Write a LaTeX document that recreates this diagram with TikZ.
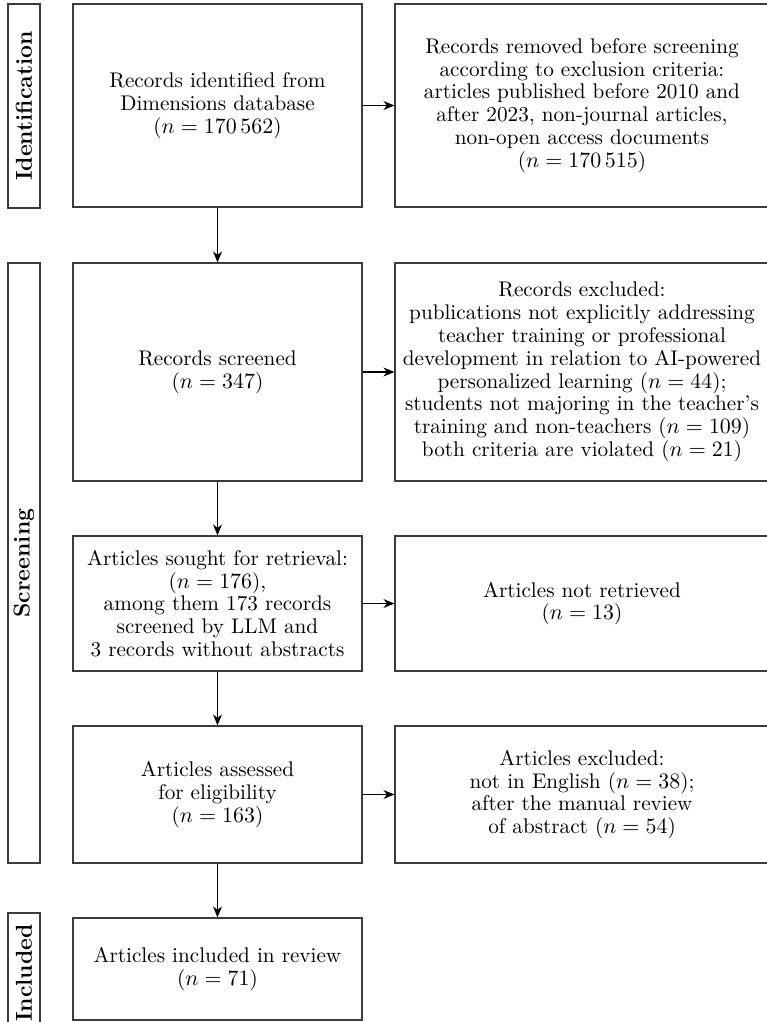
\documentclass[tikz,border=0pt]{standalone}
\usepackage{amsmath}
\usepackage{tikz}
\usetikzlibrary{positioning, arrows.meta}
\definecolor{prLine}{RGB}{60, 60, 60}
\tikzset{
    base/.style={
        font=\fontsize{10.6}{11.4}\selectfont,
        align=center,
        text=black
    },
    stage/.style={
        base,
        rectangle,
        draw=prLine,
        line width=0.6pt,
        fill=white,
        inner sep=2pt
    },
    phase/.style={
        base,
        rectangle,
        draw=prLine,
        line width=0.6pt,
        fill=white,
        font=\fontsize{11.5}{12}\selectfont\bfseries,
        minimum height=16pt,
        inner sep=0pt
    },
    flow/.style={
        -{Stealth[length=5.5pt, width=4.5pt]},
        line width=0.6pt,
        color=black
    }
}

\begin{document}
\begin{tikzpicture}[x=0.5pt, y=-0.5pt]
  \useasboundingbox (0,0) rectangle (766,1022);

  % Phase bars
  \node[phase, rotate=90, minimum width=102pt] (ident) at (24,106) {Identification};
  \node[phase, rotate=90, minimum width=300pt] (screen) at (24,563) {Screening};
  \node[phase, rotate=90, minimum width=60pt] (incl) at (24,973) {Included};

  % Main column
  \node[stage, minimum width=144.5pt, minimum height=101.5pt] (ident1) at (217.5,105.5)
    {Records identified from\\ Dimensions database\\ ($n = 170\,562$)};
  \node[stage, minimum width=144.5pt, minimum height=109pt] (screened) at (217.5,372)
    {Records screened\\ ($n = 347$)};
  \node[stage, minimum width=144.5pt, minimum height=67.5pt] (sought) at (217.5,603.5)
    {Articles sought for retrieval:\\ ($n = 176$),\\ among them 173 records\\ screened by LLM and\\ 3 records without abstracts};
  \node[stage, minimum width=144.5pt, minimum height=68.5pt] (assessed) at (217.5,794.5)
    {Articles assessed\\ for eligibility\\ ($n = 163$)};
  \node[stage, minimum width=144.5pt, minimum height=51pt] (included) at (217.5,969)
    {Articles included in review\\ ($n = 71$)};

  % Excluded column
  \node[stage, minimum width=187pt, minimum height=101.5pt] (removed) at (582,105.5)
    {Records removed before screening\\ according to exclusion criteria:\\ articles published before 2010 and\\ after 2023, non-journal articles,\\ non-open access documents\\ ($n = 170\,515$)};
  \node[stage, minimum width=187pt, minimum height=109pt] (excluded) at (582,372)
    {Records excluded:\\ publications not explicitly addressing\\ teacher training or professional\\ development in relation to AI-powered\\ personalized learning ($n = 44$);\\ students not majoring in the teacher's\\ training and non-teachers ($n = 109$)\\ both criteria are violated ($n = 21$)};
  \node[stage, minimum width=187pt, minimum height=67.5pt] (notret) at (582,603.5)
    {Articles not retrieved\\ ($n = 13$)};
  \node[stage, minimum width=187pt, minimum height=68.5pt] (artexcl) at (582,794.5)
    {Articles excluded:\\ not in English ($n = 38$);\\ after the manual review\\ of abstract ($n = 54$)};

  % Flow down
  \draw[flow] (ident1) -- (screened);
  \draw[flow] (screened) -- (sought);
  \draw[flow] (sought) -- (assessed);
  \draw[flow] (assessed) -- (included);

  % Flow right
  \draw[flow] (ident1) -- (removed);
  \draw[flow] (screened) -- (excluded);
  \draw[flow] (sought) -- (notret);
  \draw[flow] (assessed) -- (artexcl);
\end{tikzpicture}
\end{document}
